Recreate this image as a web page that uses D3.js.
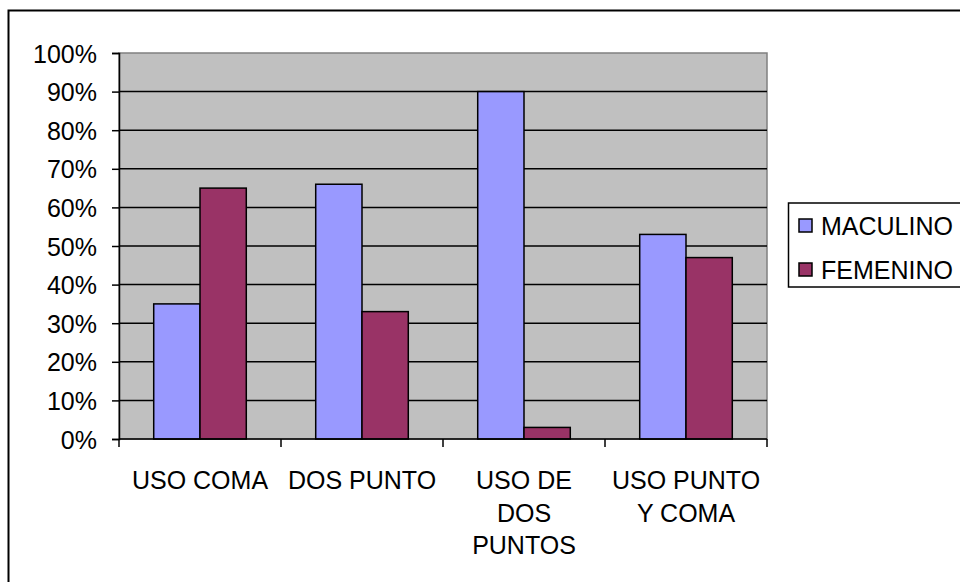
<!DOCTYPE html>
<html>
<head>
<meta charset="utf-8">
<script src="https://d3js.org/d3.v7.min.js"></script>
<style>
    body { margin: 0; background: #fff; }
    text { font-family: "Liberation Sans", Arial, sans-serif; }
</style>
</head>
<body>
<div id="my_barchart"></div>
<script>
// chart data
var categories = ["USO COMA", "DOS PUNTO", "USO DE\nDOS\nPUNTOS", "USO PUNTO\nY COMA"];
var seriesNames = ["MACULINO", "FEMENINO"];
var masculinoValues = [35, 66, 90, 53];
var femeninoValues = [65, 33, 3, 47];
var yTicks = [0, 10, 20, 30, 40, 50, 60, 70, 80, 90, 100];

var seriesColors = ["#9999FF", "#993366"];
var fontSize = 25;
var barmargin = { top: 53, left: 119 };
var bwidth = 648,
    bheight = 386;

var svg = d3.select("#my_barchart")
    .append("svg")
    .attr("width", 960)
    .attr("height", 582);

// outer chart border (runs off the right/bottom of the picture)
svg.append("rect")
    .attr("x", 8.5)
    .attr("y", 10.5)
    .attr("width", 1000)
    .attr("height", 1000)
    .attr("fill", "none")
    .attr("stroke", "#000")
    .attr("stroke-width", 2);

var chart = svg.append("g")
    .attr("transform", "translate(" + barmargin.left + "," + barmargin.top + ")");

var xscale = d3.scaleBand()
    .domain(categories)
    .range([0, bwidth]);

var xinner = d3.scaleBand()
    .domain(seriesNames)
    .range([0, xscale.bandwidth()])
    .paddingInner(0)
    .paddingOuter(0.75);

var yscale = d3.scaleLinear()
    .domain([0, 100])
    .range([bheight, 0]);

// plot area
chart.append("rect")
    .attr("width", bwidth)
    .attr("height", bheight)
    .attr("fill", "#C0C0C0")
    .attr("stroke", "#808080")
    .attr("stroke-width", 1.5);

// gridlines
chart.selectAll(".grid")
    .data(yTicks.filter(d => d > 0 && d < 100))
    .enter()
    .append("line")
    .attr("class", "grid")
    .attr("x1", 0)
    .attr("x2", bwidth)
    .attr("y1", d => yscale(d))
    .attr("y2", d => yscale(d))
    .attr("stroke", "#000")
    .attr("stroke-width", 1.5);

// bars
var rows = categories.map(function(c, i) {
    return { cat: c, values: [masculinoValues[i], femeninoValues[i]] };
});

var groups = chart.selectAll(".grp")
    .data(rows)
    .enter()
    .append("g")
    .attr("transform", d => "translate(" + xscale(d.cat) + ",0)");

groups.selectAll("rect")
    .data(d => d.values.map((v, j) => ({ name: seriesNames[j], value: v, idx: j })))
    .enter()
    .append("rect")
    .attr("x", d => xinner(d.name))
    .attr("y", d => yscale(d.value))
    .attr("width", xinner.bandwidth())
    .attr("height", d => bheight - yscale(d.value))
    .attr("fill", d => seriesColors[d.idx])
    .attr("stroke", "#000")
    .attr("stroke-width", 1.5);

// y axis
var yAxis = chart.append("g")
    .call(d3.axisLeft(yscale).tickValues(yTicks).tickSize(7).tickFormat(d => d + "%"));
yAxis.selectAll("line").attr("stroke", "#000").attr("stroke-width", 1.5);
yAxis.select(".domain").attr("stroke", "#000").attr("stroke-width", 1.5);
yAxis.selectAll("text")
    .attr("x", -22)
    .attr("dy", null)
    .attr("y", fontSize * 0.36)
    .style("font-size", fontSize + "px")
    .style("font-family", "'Liberation Sans', Arial, sans-serif")
    .attr("fill", "#000");

// x axis: ticks sit on band boundaries
var xAxis = chart.append("g")
    .attr("transform", "translate(0," + bheight + ")");
xAxis.append("line")
    .attr("x1", 0)
    .attr("x2", bwidth)
    .attr("stroke", "#000")
    .attr("stroke-width", 1.5);
xAxis.selectAll(".xtick")
    .data(d3.range(categories.length + 1))
    .enter()
    .append("line")
    .attr("class", "xtick")
    .attr("x1", i => i * xscale.step())
    .attr("x2", i => i * xscale.step())
    .attr("y1", 0)
    .attr("y2", 8)
    .attr("stroke", "#000")
    .attr("stroke-width", 1.5);

var xlabels = xAxis.selectAll(".xlabel")
    .data(categories)
    .enter()
    .append("text")
    .attr("class", "xlabel")
    .attr("text-anchor", "middle")
    .attr("x", d => xscale(d) + xscale.bandwidth() / 2)
    .attr("y", 50)
    .style("font-size", fontSize + "px");
xlabels.selectAll("tspan")
    .data(d => d.split("\n"))
    .enter()
    .append("tspan")
    .attr("x", function() { return d3.select(this.parentNode).attr("x"); })
    .attr("dy", (d, i) => i == 0 ? 0 : 32.5)
    .text(d => d);

// legend
var legend = svg.append("g");
legend.append("rect")
    .attr("x", 788.5)
    .attr("y", 203)
    .attr("width", 200)
    .attr("height", 84)
    .attr("fill", "#fff")
    .attr("stroke", "#000")
    .attr("stroke-width", 1.5);

var legendY = [225.5, 269.5];
seriesNames.forEach(function(name, i) {
    legend.append("rect")
        .attr("x", 799)
        .attr("y", legendY[i] - 6.5)
        .attr("width", 13)
        .attr("height", 13)
        .attr("fill", seriesColors[i])
        .attr("stroke", "#000")
        .attr("stroke-width", 1.5);
    legend.append("text")
        .attr("x", 821)
        .attr("y", legendY[i] + fontSize * 0.36)
        .style("font-size", fontSize + "px")
        .text(name);
});
</script>
</body>
</html>
